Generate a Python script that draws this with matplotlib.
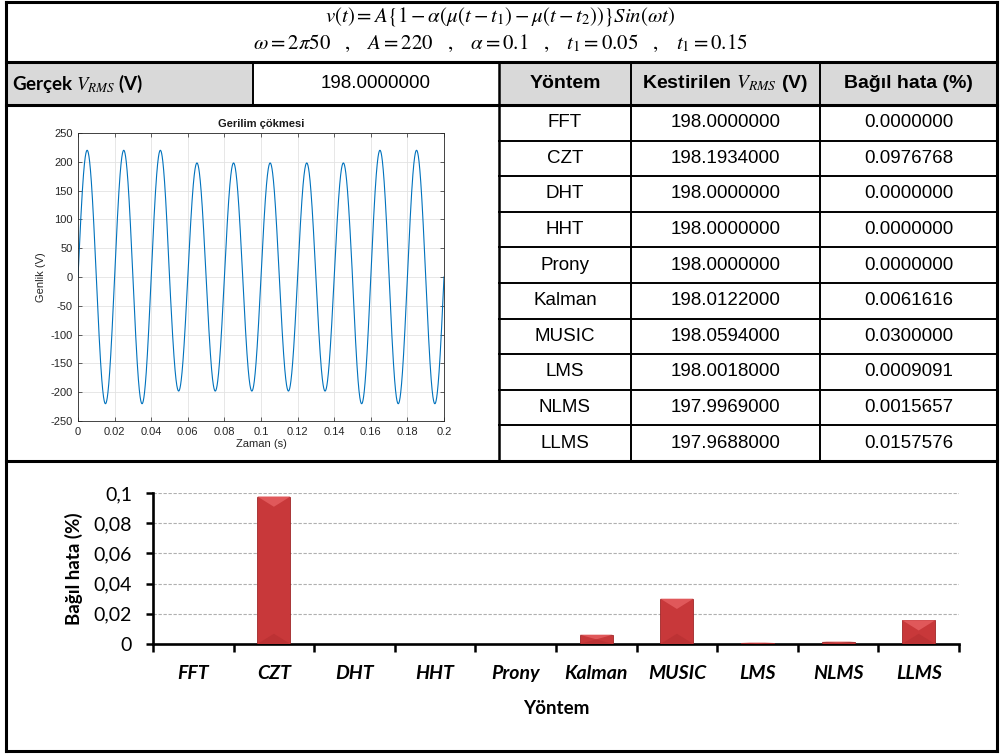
import numpy as np
import matplotlib.pyplot as plt
from matplotlib.patches import Rectangle, Polygon
from matplotlib.ticker import FuncFormatter

plt.rcParams['mathtext.fontset'] = 'stix'
plt.rcParams['axes.unicode_minus'] = False

# table data
methods = ["FFT", "CZT", "DHT", "HHT", "Prony", "Kalman", "MUSIC", "LMS", "NLMS", "LLMS"]
vrms_true = 198.0
vrms_est = [198.0, 198.1934, 198.0, 198.0, 198.0, 198.0122, 198.0594, 198.0018, 197.9969, 197.9688]
rel_err = [0.0, 0.0976768, 0.0, 0.0, 0.0, 0.0061616, 0.03, 0.0009091, 0.0015657, 0.0157576]

# signal parameters as given in the header formula
A = 220
alpha = 0.1
f = 50
t1, t2 = 0.05, 0.15

wave_xticks = [0, 0.02, 0.04, 0.06, 0.08, 0.1, 0.12, 0.14, 0.16, 0.18, 0.2]
wave_xlabels = ["0", "0.02", "0.04", "0.06", "0.08", "0.1", "0.12", "0.14", "0.16", "0.18", "0.2"]
wave_yticks = [-250, -200, -150, -100, -50, 0, 50, 100, 150, 200, 250]
err_yticks = [0, 0.02, 0.04, 0.06, 0.08, 0.1]

W, H = 1000, 754
narrow = ['Liberation Sans Narrow', 'Liberation Sans', 'DejaVu Sans']
calib = ['Lato', 'DejaVu Sans']
helv = ['Liberation Sans', 'DejaVu Sans']

fig = plt.figure(figsize=(W / 100, H / 100), dpi=100)
fig.patch.set_facecolor('white')

# background axes in pixel coordinates for the table grid
bg = fig.add_axes([0, 0, 1, 1])
bg.set_xlim(0, W)
bg.set_ylim(H, 0)
bg.axis('off')

def px_axes(x0, y0, x1, y1):
    return fig.add_axes([x0 / W, 1 - y1 / H, (x1 - x0) / W, (y1 - y0) / H])

def hline(y, x0, x1, lw):
    bg.plot([x0, x1], [y, y], color='black', lw=lw, solid_capstyle='projecting')

def vline(x, y0, y1, lw):
    bg.plot([x, x], [y0, y1], color='black', lw=lw, solid_capstyle='projecting')

L, R, T, B = 6, 997, 2, 751
y_head, y_rows, y_end = 62, 105, 461
cols = [6, 253, 499, 631, 820, 997]
row_h = (y_end - y_rows) / len(methods)

# header fills
bg.add_patch(Rectangle((cols[0], y_head), cols[1] - cols[0], y_rows - y_head, color='#d9d9d9', lw=0))
bg.add_patch(Rectangle((cols[2], y_head), cols[5] - cols[2], y_rows - y_head, color='#d9d9d9', lw=0))

# grid lines
for k in range(1, len(methods)):
    hline(y_rows + k * row_h, cols[2], cols[5], 1.4)
vline(cols[1], y_head, y_rows, 1.4)
vline(cols[2], y_head, y_end, 1.8)
vline(cols[3], y_head, y_end, 1.4)
vline(cols[4], y_head, y_end, 1.4)
hline(y_head, L, R, 2.2)
hline(y_rows, L, R, 2.2)
hline(y_end, L, R, 2.2)
hline(T, L, R, 2.2)
hline(B, L, R, 2.2)
vline(L, T, B, 2.2)
vline(R, T, B, 2.2)

# formula title
bg.text(500, 16, r'$v(t) = A\left\{1-\alpha\left(\mu(t-t_1)-\mu(t-t_2)\right)\right\}Sin(\omega t)$',
        ha='center', va='center', fontsize=15)
sep = r'\ \ \ ,\ \ \ '
bg.text(500, 43, r'$\omega = 2\pi 50' + sep + r'A = 220' + sep + r'\alpha = 0.1' + sep
        + r't_1 = 0.05' + sep + r't_1 = 0.15$', ha='center', va='center', fontsize=15)

# header row
yc = (y_head + y_rows) / 2
bg.text(12, yc, r'Gerçek $V_{RMS}$ (V)', ha='left', va='center', fontsize=13.5,
        fontweight='bold', family=calib)
bg.text((cols[1] + cols[2]) / 2, yc, f"{vrms_true:.7f}", ha='center', va='center',
        fontsize=13.5, family=narrow)
bg.text((cols[2] + cols[3]) / 2, yc, "Yöntem", ha='center', va='center', fontsize=14,
        fontweight='bold', family=narrow)
bg.text((cols[3] + cols[4]) / 2, yc, r'Kestirilen $V_{RMS}$ (V)', ha='center', va='center',
        fontsize=14, fontweight='bold', family=narrow)
bg.text((cols[4] + cols[5]) / 2, yc, "Bağıl hata (%)", ha='center', va='center', fontsize=14,
        fontweight='bold', family=narrow)

for i, (m, v, e) in enumerate(zip(methods, vrms_est, rel_err)):
    yc = y_rows + (i + 0.5) * row_h
    bg.text((cols[2] + cols[3]) / 2, yc, m, ha='center', va='center', fontsize=13.5, family=narrow)
    bg.text((cols[3] + cols[4]) / 2, yc, f"{v:.7f}", ha='center', va='center', fontsize=13.5, family=narrow)
    bg.text((cols[4] + cols[5]) / 2, yc, f"{e:.7f}", ha='center', va='center', fontsize=13.5, family=narrow)

# voltage sag waveform (MATLAB style)
ax1 = px_axes(78, 133, 444, 421)
t = np.linspace(0, 0.2, 4001)
v = A * (1 - alpha * ((t >= t1).astype(float) - (t >= t2).astype(float))) * np.sin(2 * np.pi * f * t)
ax1.plot(t, v, color='#0072BD', lw=0.8)
ax1.set_xlim(0, 0.2)
ax1.set_ylim(-250, 250)
ax1.set_xticks(wave_xticks)
ax1.set_xticklabels(wave_xlabels)
ax1.set_yticks(wave_yticks)
ax1.grid(True, color='#e3e3e3', lw=0.6)
ax1.set_axisbelow(True)
ax1.tick_params(direction='in', top=True, right=True, length=3, width=0.5,
                labelsize=8, colors='#262626', pad=4)
for lab in ax1.get_xticklabels() + ax1.get_yticklabels():
    lab.set_family(helv)
for s in ax1.spines.values():
    s.set_color('#262626')
    s.set_linewidth(0.6)
ax1.set_title("Gerilim çökmesi", fontsize=8, fontweight='bold', family=helv, color='#1a1a1a', pad=4)
ax1.set_xlabel("Zaman (s)", fontsize=8, family=helv, color='#262626', labelpad=2)
ax1.set_ylabel("Genlik (V)", fontsize=8, family=helv, color='#262626', labelpad=3)

# relative error bar chart (Excel style)
ax2 = px_axes(153, 493, 959, 644)
x = np.arange(len(methods))
bw = 0.41
ax2.bar(x, rel_err, bw, color='#C8383A', edgecolor='#a02628', lw=0.6, zorder=3)
depth = 0.0068
for xi, h in zip(x, rel_err):
    if h <= 0:
        continue
    d = min(depth, h / 2)
    x0, x1 = xi - bw / 2, xi + bw / 2
    ax2.add_patch(Polygon([(x0, h), (x1, h), (xi, h - d)], closed=True, color='#E0585A', lw=0, zorder=4))
    ax2.add_patch(Polygon([(x0, 0), (x1, 0), (xi, d)], closed=True, color='#BC3234', lw=0, zorder=4))

ax2.set_xlim(-0.5, len(methods) - 0.5)
ax2.set_ylim(0, 0.1)
ax2.set_yticks(err_yticks)
ax2.yaxis.set_major_formatter(FuncFormatter(lambda val, pos: ('%g' % round(val, 4)).replace('.', ',')))
ax2.set_xticks(x)
ax2.set_xticklabels(methods, fontsize=14, fontweight='bold', fontstyle='italic', family=calib)
ax2.set_xticks(np.arange(-0.5, len(methods), 1), minor=True)
ax2.tick_params(axis='x', which='major', length=0, pad=15)
ax2.tick_params(axis='x', which='minor', length=6, width=1.8, direction='out')
ax2.tick_params(axis='y', length=5, width=1.8, direction='out', pad=10, labelsize=14)
for lab in ax2.get_yticklabels():
    lab.set_family(calib)
ax2.yaxis.grid(True, linestyle=(0, (3, 1.5)), color='#b0b0b0', lw=0.8)
ax2.set_axisbelow(True)
for s in ['top', 'right']:
    ax2.spines[s].set_visible(False)
for s in ['left', 'bottom']:
    ax2.spines[s].set_linewidth(1.9)
ax2.set_xlabel("Yöntem", fontsize=13.5, fontweight='bold', family=calib, labelpad=13)
ax2.set_ylabel("Bağıl hata (%)", fontsize=13.5, fontweight='bold', family=calib, labelpad=8)

fig.savefig("out.png", dpi=100, facecolor='white')
